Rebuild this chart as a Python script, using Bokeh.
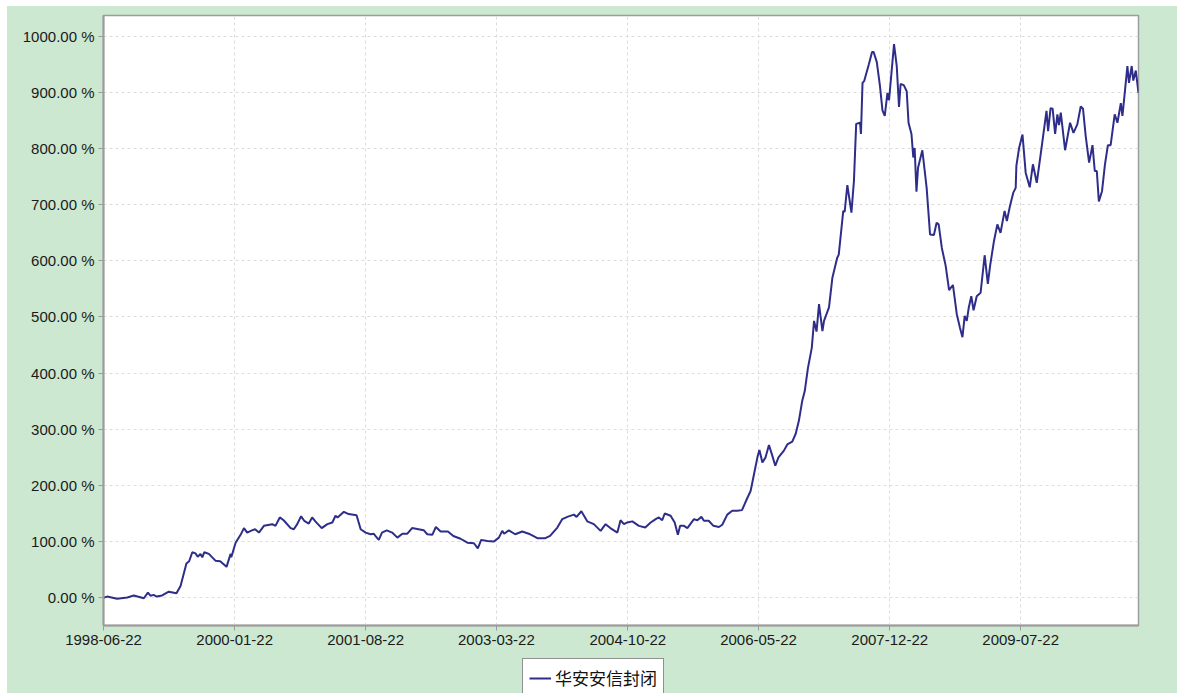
import pandas as pd
from bokeh.plotting import figure
from bokeh.layouts import column
from bokeh.models import (Range1d, FixedTicker, DatetimeTickFormatter, Legend, LegendItem,
                          ColumnDataSource, CustomJSTickFormatter)
from bokeh.embed import file_html
from bokeh.resources import INLINE

series_name = "华安安信封闭"

tick_labels = ["1998-06-22", "2000-01-22", "2001-08-22", "2003-03-22",
               "2004-10-22", "2006-05-22", "2007-12-22", "2009-07-22"]
y_ticks = [0, 100, 200, 300, 400, 500, 600, 700, 800, 900, 1000]
x_start, x_end = "1998-06-22", "2010-12-24"

dates_1998 = ["1998-06-22", "1998-07-08", "1998-08-21", "1998-10-05", "1998-11-03", "1998-12-17"]
vals_1998 = [0, 2, -2, 0.5, 4, -1]
dates_1999 = ["1999-01-04", "1999-01-15", "1999-01-29", "1999-02-12", "1999-03-08", "1999-04-06",
              "1999-05-10", "1999-05-28", "1999-06-23", "1999-07-05", "1999-07-19", "1999-08-02",
              "1999-08-12", "1999-08-24", "1999-09-01", "1999-09-10", "1999-09-30", "1999-10-29",
              "1999-11-19", "1999-12-17"]
vals_1999 = [9, 3.5, 5, 2, 4, 10.7, 8, 21, 61, 65, 81, 79, 73, 78, 72, 81, 78, 66, 65, 55]
dates_2000 = ["2000-01-04", "2000-01-07", "2000-01-26", "2000-02-17", "2000-03-03", "2000-03-17",
              "2000-04-07", "2000-04-21", "2000-05-08", "2000-05-30", "2000-07-06", "2000-07-20",
              "2000-08-08", "2000-08-25", "2000-09-25", "2000-10-09", "2000-10-24", "2000-11-10",
              "2000-11-24", "2000-12-14", "2000-12-29"]
vals_2000 = [78, 72, 98, 112, 124, 116, 120, 122, 116, 128, 131, 128, 143, 138, 124, 122, 131, 145,
             137, 132, 143]
dates_2001 = ["2001-01-12", "2001-02-09", "2001-03-06", "2001-03-28", "2001-04-11", "2001-04-20",
              "2001-05-18", "2001-06-08", "2001-07-13", "2001-07-31", "2001-08-22", "2001-09-13",
              "2001-09-27", "2001-10-04", "2001-10-19", "2001-11-02", "2001-11-23", "2001-12-17"]
vals_2001 = [136, 124, 131, 134, 146, 143, 153, 149, 147, 122, 116, 113, 114, 110, 103, 116, 120, 116]
dates_2002 = ["2002-01-09", "2002-01-31", "2002-02-22", "2002-03-15", "2002-04-12", "2002-05-06",
              "2002-05-21", "2002-06-12", "2002-06-28", "2002-07-19", "2002-08-20", "2002-09-13",
              "2002-10-15", "2002-11-14", "2002-12-13", "2002-12-30"]
vals_2002 = [107, 114, 114, 124, 122, 120, 113, 112, 126, 118, 118, 110, 105, 98, 97, 88]
dates_2003 = ["2003-01-14", "2003-02-10", "2003-03-11", "2003-04-02", "2003-04-17", "2003-04-25",
              "2003-05-16", "2003-06-13", "2003-07-14", "2003-08-12", "2003-09-19", "2003-10-24",
              "2003-11-14", "2003-12-16"]
vals_2003 = [103, 101, 100, 107, 119, 114, 120, 113, 118, 114, 106, 106, 110, 125]
dates_2004 = ["2004-01-07", "2004-01-29", "2004-02-27", "2004-03-10", "2004-03-31", "2004-04-26",
              "2004-05-25", "2004-06-24", "2004-07-16", "2004-08-06", "2004-09-06", "2004-09-20",
              "2004-10-05", "2004-10-20", "2004-11-11", "2004-12-10"]
vals_2004 = [140, 144, 148, 144, 154, 136, 131, 119, 131, 124, 116, 138, 131, 134, 136, 128]
dates_2005 = ["2005-01-07", "2005-01-31", "2005-02-22", "2005-03-08", "2005-03-23", "2005-04-03",
              "2005-04-29", "2005-05-17", "2005-05-31", "2005-06-10", "2005-06-27", "2005-07-12",
              "2005-08-10", "2005-08-25", "2005-09-12", "2005-09-23", "2005-10-14", "2005-11-04",
              "2005-11-28", "2005-12-13"]
vals_2005 = [125, 134, 140, 143, 138, 150, 146, 134, 112, 128, 128, 124, 140, 138, 144, 137, 137, 128,
             126, 130]
dates_2006 = ["2006-01-04", "2006-01-26", "2006-02-17", "2006-03-10", "2006-04-03", "2006-04-17",
              "2006-05-02", "2006-05-17", "2006-05-26", "2006-06-08", "2006-06-22", "2006-07-07",
              "2006-07-21", "2006-08-04", "2006-08-18", "2006-09-11", "2006-09-26", "2006-10-18",
              "2006-11-02", "2006-11-16", "2006-12-01", "2006-12-12", "2006-12-26"]
vals_2006 = [148, 155, 155, 156, 178, 190, 220, 250, 263, 241, 250, 272, 254, 235, 250, 262, 273, 278,
             292, 315, 351, 368, 409]
dates_2007 = ["2007-01-12", "2007-01-22", "2007-02-02", "2007-02-13", "2007-02-28", "2007-03-07",
              "2007-03-29", "2007-04-13", "2007-05-04", "2007-05-11", "2007-05-31", "2007-06-06",
              "2007-06-18", "2007-07-06", "2007-07-17", "2007-07-27", "2007-08-13", "2007-08-17",
              "2007-08-24", "2007-08-31", "2007-09-21", "2007-10-05", "2007-10-12", "2007-10-26",
              "2007-11-09", "2007-11-20", "2007-11-30", "2007-12-12", "2007-12-19"]
vals_2007 = [445, 493, 474, 523, 475, 493, 517, 570, 605, 611, 689, 687, 735, 686, 742, 844, 846, 826,
             917, 920, 950, 972, 972, 954, 911, 868, 858, 899, 886]
dates_2008 = ["2008-01-10", "2008-01-22", "2008-02-01", "2008-02-08", "2008-02-22", "2008-03-06",
              "2008-03-14", "2008-03-27", "2008-04-04", "2008-04-10", "2008-04-18", "2008-04-25",
              "2008-05-14", "2008-06-02", "2008-06-17", "2008-07-04", "2008-07-16", "2008-07-25",
              "2008-08-08", "2008-08-25", "2008-09-09", "2008-09-26", "2008-10-13", "2008-10-27",
              "2008-11-07", "2008-11-17", "2008-11-26", "2008-12-05", "2008-12-16", "2008-12-26"]
vals_2008 = [986, 947, 874, 915, 913, 902, 846, 826, 784, 801, 723, 766, 797, 730, 647, 646, 668, 665,
             623, 591, 548, 557, 505, 481, 464, 502, 493, 517, 537, 512]
dates_2009 = ["2009-01-09", "2009-01-26", "2009-02-13", "2009-02-27", "2009-03-09", "2009-03-26",
              "2009-04-10", "2009-04-24", "2009-05-12", "2009-05-22", "2009-06-05", "2009-06-19",
              "2009-06-30", "2009-07-03", "2009-07-15", "2009-07-30", "2009-08-13", "2009-08-31",
              "2009-09-14", "2009-10-01", "2009-10-23", "2009-11-02", "2009-11-13", "2009-11-20",
              "2009-12-01", "2009-12-10", "2009-12-21", "2009-12-31"]
vals_2009 = [537, 543, 610, 559, 591, 635, 665, 650, 689, 671, 698, 721, 730, 769, 801, 825, 757, 731,
             772, 739, 804, 834, 867, 831, 872, 871, 826, 861]
dates_2010 = ["2010-01-07", "2010-01-15", "2010-02-03", "2010-02-25", "2010-03-12", "2010-03-29",
              "2010-04-13", "2010-04-23", "2010-05-05", "2010-05-20", "2010-06-04", "2010-06-14",
              "2010-06-23", "2010-07-02", "2010-07-16", "2010-07-29", "2010-08-11", "2010-08-23",
              "2010-09-10", "2010-09-22", "2010-10-07", "2010-10-14", "2010-10-22", "2010-11-05",
              "2010-11-12", "2010-11-24", "2010-12-01", "2010-12-12", "2010-12-24"]
vals_2010 = [842, 864, 797, 846, 828, 843, 875, 871, 822, 775, 806, 760, 760, 706, 724, 772, 806, 806,
             861, 846, 881, 858, 890, 947, 917, 947, 921, 939, 899]

dates = (dates_1998 + dates_1999 + dates_2000 + dates_2001 + dates_2002 + dates_2003 + dates_2004
         + dates_2005 + dates_2006 + dates_2007 + dates_2008 + dates_2009 + dates_2010)
values = (vals_1998 + vals_1999 + vals_2000 + vals_2001 + vals_2002 + vals_2003 + vals_2004
          + vals_2005 + vals_2006 + vals_2007 + vals_2008 + vals_2009 + vals_2010)
assert len(dates) == len(values)

BG = "#CCE8D0"
LINE = "#2E2E8A"
FRAME = "#9C9C9C"
FONT = "Liberation Sans"


def to_ms(s):
    return (pd.Timestamp(s) - pd.Timestamp("1970-01-01")) // pd.Timedelta("1ms")


src = ColumnDataSource(dict(x=pd.to_datetime(dates), y=values))

# ---- main chart ----
p = figure(width=1170, height=649, output_backend="svg", toolbar_location=None,
           x_axis_type="datetime",
           x_range=Range1d(pd.Timestamp(x_start), pd.Timestamp(x_end)),
           y_range=Range1d(-49.5, 1037),
           min_border_left=96, min_border_right=39, min_border_top=9, min_border_bottom=30)

p.background_fill_color = "white"
p.border_fill_color = BG
p.outline_line_color = FRAME
p.outline_line_width = 1.5

r = p.line("x", "y", source=src, line_color=LINE, line_width=2)

p.xaxis.ticker = FixedTicker(ticks=[to_ms(t) for t in tick_labels])
p.xaxis.formatter = DatetimeTickFormatter(days="%Y-%m-%d", months="%Y-%m-%d", years="%Y-%m-%d",
                                          hours="%Y-%m-%d", minutes="%Y-%m-%d")
p.yaxis.ticker = FixedTicker(ticks=y_ticks)
p.yaxis.formatter = CustomJSTickFormatter(code="return tick.toFixed(2) + ' %';")

for ax in (p.xaxis[0], p.yaxis[0]):
    ax.axis_line_color = FRAME
    ax.axis_line_width = 2
    ax.major_tick_line_color = FRAME
    ax.major_tick_line_width = 1
    ax.major_tick_out = 5
    ax.major_tick_in = 0
    ax.minor_tick_line_color = None
    ax.major_label_text_font = FONT
    ax.major_label_text_font_size = "15px"
    ax.major_label_text_color = "#1A1A1A"
    ax.major_label_standoff = 4

for g in (p.xgrid[0], p.ygrid[0]):
    g.grid_line_color = "#DCDCDC"
    g.grid_line_dash = "3 3"
    g.grid_line_width = 1

# ---- legend strip below the chart (same series, its ranges keep the line out of view) ----
lg = figure(width=1170, height=38, output_backend="svg", toolbar_location=None,
            x_axis_type=None, y_axis_type=None, min_border=0,
            x_range=Range1d(0, 1), y_range=Range1d(0, 1))
lg.background_fill_color = BG
lg.border_fill_color = BG
lg.outline_line_color = BG
lg.outline_line_width = 3
lg.xgrid.visible = False
lg.ygrid.visible = False
lr = lg.line("x", "y", source=src, line_color=LINE, line_width=2)

legend = Legend(items=[LegendItem(label=series_name, renderers=[lr])],
                location=(419, -4), orientation="horizontal",
                border_line_color="#222222", border_line_width=1.2,
                background_fill_color="white", background_fill_alpha=1,
                label_text_font="Noto Sans CJK SC", label_text_font_size="17px",
                label_text_color="#111111", glyph_width=22, glyph_height=24,
                label_standoff=4, padding=6, margin=0, spacing=0, label_height=24)
lg.add_layout(legend)

layout = column(p, lg, spacing=0, margin=(6, 0, 0, 7), styles={"background-color": BG})
open("out.html", "w").write(file_html(layout, INLINE))
